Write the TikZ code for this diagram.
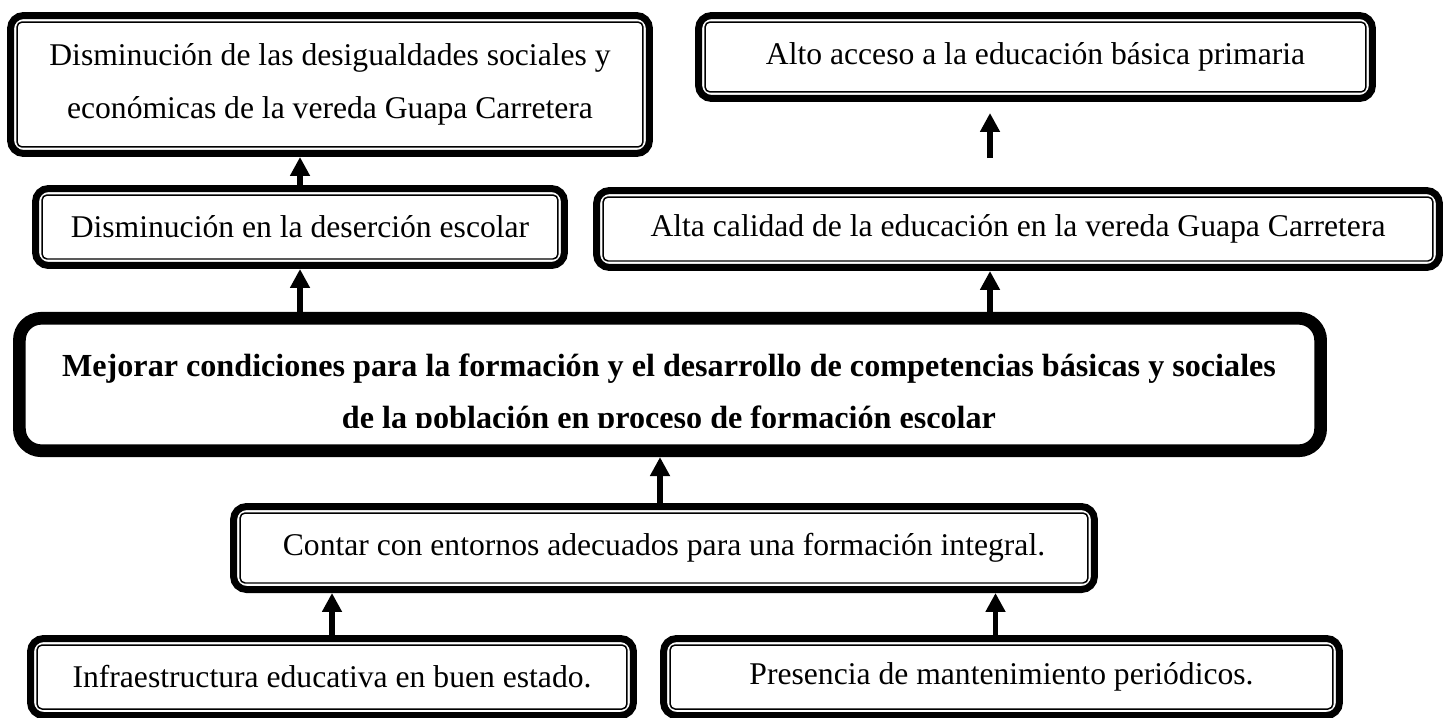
\documentclass[tikz,border=0pt]{standalone}
\usepackage{fontspec}
\setmainfont{Liberation Serif}
\usetikzlibrary{arrows.meta}

\begin{document}
\begin{tikzpicture}[x=0.02cm, y=-0.02cm,
  thinbox/.style={draw, line width=0.85pt, rounded corners=0.1cm, inner sep=0pt,
    outer sep=0.2cm, align=center, font=\fontsize{18}{30.2}\selectfont},
  outerframe/.style={line width=0.14cm, rounded corners=0.26cm},
  mainbox/.style={draw, line width=0.254cm, rounded corners=0.44cm, inner sep=0pt,
    outer sep=0.127cm},
  arr/.style={line width=0.11cm, -{Triangle[width=0.38cm,length=0.38cm]}}]
\useasboundingbox (0,0) rectangle (1450,717);
\node[thinbox, minimum width=12.52cm, minimum height=2.5cm] (desig) at (330,84.5)
    {Disminución de las desigualdades sociales y\\económicas de la vereda Guapa Carretera};
\node[thinbox, minimum width=13.22cm, minimum height=1.4cm] (acceso) at (1035.5,57)
    {Alto acceso a la educación básica primaria};
\node[thinbox, minimum width=10.32cm, minimum height=1.28cm] (desercion) at (300,227)
    {Disminución en la deserción escolar};
\node[thinbox, minimum width=16.6cm, minimum height=1.28cm] (calidad) at (1018,229)
    {Alta calidad de la educación en la vereda Guapa Carretera};
\node[mainbox, minimum width=26.03cm, minimum height=2.65cm] (mejorar) at (670,384.5) {};
\begin{scope}
    \clip (13,312) rectangle (1327,427);
    \node[font=\bfseries\fontsize{18.3}{29.6}\selectfont, align=center] (mejorartxt) at (669,395)
        {Mejorar condiciones para la formación y el desarrollo de competencias básicas y sociales\\de la población en proceso de formación escolar};
\end{scope}
\node[thinbox, minimum width=16.96cm, minimum height=1.4cm] (contar) at (664,548)
    {Contar con entornos adecuados para una formación integral.};
\node[thinbox, minimum width=11.8cm, minimum height=1.28cm] (infra) at (332,677)
    {Infraestructura educativa en buen estado.};
\node[thinbox, minimum width=13.26cm, minimum height=1.28cm] (mant) at (1001.5,677)
    {Presencia de mantenimiento periódicos.};

\foreach \n in {desig,acceso,desercion,calidad,contar,infra,mant}
    \draw[outerframe] ([shift={(0.07cm,0.07cm)}]\n.south west) rectangle ([shift={(-0.07cm,-0.07cm)}]\n.north east);

\draw[arr] (desercion.north) -- (desercion.north |- desig.south);
\draw[arr] (desercion.south |- mejorar.north) -- (desercion.south);
\draw[arr] ([xshift=-0.56cm]calidad.south |- mejorar.north) -- ([xshift=-0.56cm]calidad.south);
\draw[arr, shorten <=0.58cm, shorten >=0.22cm] ([xshift=-0.56cm]calidad.north) -- ([xshift=-0.56cm]calidad.north |- acceso.south);
\draw[arr] ([xshift=-0.08cm]contar.north) -- ([xshift=-0.08cm]contar.north |- mejorar.south);
\draw[arr] (infra.north) -- (infra.north |- contar.south);
\draw[arr] ([xshift=-0.12cm]mant.north) -- ([xshift=-0.12cm]mant.north |- contar.south);
\end{tikzpicture}
\end{document}
